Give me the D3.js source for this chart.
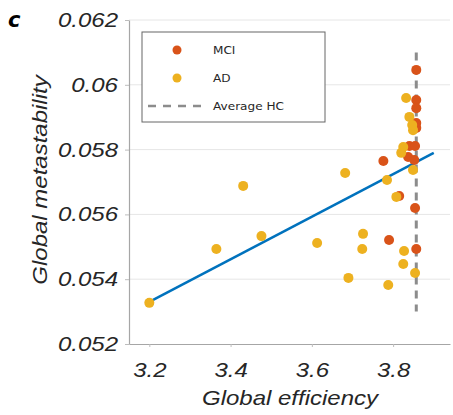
<!DOCTYPE html>
<html>
<head>
<meta charset="utf-8">
<script src="https://cdn.jsdelivr.net/npm/d3@7"></script>
<style>
  body { margin: 0; background: #fff; }
  svg { display: block; }
</style>
</head>
<body>
<script>
// data
var mciEff  = [3.857, 3.857, 3.857, 3.857, 3.857, 3.840, 3.854, 3.776, 3.837, 3.852, 3.815, 3.854, 3.790, 3.857];
var mciMeta = [0.06046, 0.05953, 0.05928, 0.05882, 0.05867, 0.05811, 0.05811, 0.05765, 0.05777, 0.05768, 0.05657, 0.05620, 0.05521, 0.05493];

var adEff  = [3.200, 3.365, 3.431, 3.476, 3.613, 3.682, 3.690, 3.726, 3.724, 3.788, 3.827, 3.825, 3.854, 3.808, 3.785, 3.849, 3.820, 3.825, 3.849, 3.832, 3.840, 3.847];
var adMeta = [0.05327, 0.05493, 0.05688, 0.05533, 0.05512, 0.05728, 0.05404, 0.05540, 0.05493, 0.05382, 0.05487, 0.05447, 0.05419, 0.05654, 0.05706, 0.05737, 0.05790, 0.05808, 0.05860, 0.05959, 0.05901, 0.05876];

var hcEff = 3.857;
var hcMeta = [0.061, 0.053];

var fitEff = [3.2, 3.9];
var fitMeta = [0.0533, 0.0579];

var xTicks = [3.2, 3.4, 3.6, 3.8];
var yTicks = [0.052, 0.054, 0.056, 0.058, 0.06, 0.062];

var legendNames = ["MCI", "AD", "Average HC"];

//styles
var width = 453, height = 415;
var mciColor = "#D95319";
var adColor = "#EDB120";
var fitColor = "#0072BD";
var hcColor = "#8c8c8c";
var tickFont = "'Liberation Sans', Arial, sans-serif";
var stretch = "scale(1.2,1)";

var svg = d3.select("body").append("svg")
  .attr("width", width)
  .attr("height", height);

var x = d3.scaleLinear().domain([3.15, 3.94]).range([129, 450]);
var y = d3.scaleLinear().domain([0.052, 0.062]).range([344, 20]);

// grid
svg.append("g").selectAll("line")
  .data(yTicks.slice(1))
  .enter().append("line")
  .attr("x1", x.range()[0]).attr("x2", x.range()[1])
  .attr("y1", d => y(d)).attr("y2", d => y(d))
  .attr("stroke", "#e6e6e6")
  .attr("stroke-width", 1);

// axes
var yAxis = svg.append("g")
  .attr("transform", "translate(" + x.range()[0] + ",0)")
  .call(d3.axisLeft(y).tickValues(yTicks).tickSize(4).tickSizeOuter(0)
    .tickFormat(d => String(+d.toFixed(3))));

var xAxis = svg.append("g")
  .attr("transform", "translate(0," + y.range()[0] + ")")
  .call(d3.axisBottom(x).tickValues(xTicks).tickSize(3).tickSizeOuter(0));

[yAxis, xAxis].forEach(function(g) {
  g.select(".domain").attr("stroke", "#a6a6a6").attr("stroke-width", 1.2);
  g.selectAll(".tick line").attr("stroke", "#bdbdbd");
  g.selectAll(".tick text")
    .attr("fill", "#262626")
    .style("font-family", tickFont)
    .style("font-style", "italic")
    .style("font-size", "20px")
    .attr("transform", stretch);
});
yAxis.selectAll(".tick text").attr("x", -9.2);
xAxis.selectAll(".tick text").attr("y", 33.5).attr("dy", null);

// axis titles
svg.append("text")
  .attr("transform", "translate(290,405) " + stretch)
  .attr("text-anchor", "middle")
  .style("font-family", tickFont)
  .style("font-style", "italic")
  .style("font-size", "20px")
  .attr("fill", "#262626")
  .text("Global efficiency");

svg.append("text")
  .attr("transform", "translate(47,180) rotate(-90) " + stretch)
  .attr("text-anchor", "middle")
  .style("font-family", tickFont)
  .style("font-style", "italic")
  .style("font-size", "20px")
  .attr("fill", "#262626")
  .text("Global metastability");

// panel letter
svg.append("text")
  .attr("x", 8).attr("y", 27)
  .style("font-family", "'DejaVu Sans', sans-serif")
  .style("font-style", "italic")
  .style("font-weight", "bold")
  .style("font-size", "21px")
  .attr("fill", "#000")
  .text("c");

// average HC line
svg.append("line")
  .attr("x1", x(hcEff)).attr("x2", x(hcEff))
  .attr("y1", y(hcMeta[0])).attr("y2", y(hcMeta[1]))
  .attr("stroke", hcColor)
  .attr("stroke-width", 3)
  .attr("stroke-dasharray", "8,6");

// fit line
var line = d3.line().x(d => x(d[0])).y(d => y(d[1]));
svg.append("path")
  .datum(d3.zip(fitEff, fitMeta))
  .attr("d", line)
  .attr("fill", "none")
  .attr("stroke", fitColor)
  .attr("stroke-width", 2.5);

// points
svg.append("g").selectAll("circle")
  .data(d3.zip(mciEff, mciMeta))
  .enter().append("circle")
  .attr("cx", d => x(d[0])).attr("cy", d => y(d[1]))
  .attr("r", 5)
  .attr("fill", mciColor);

svg.append("g").selectAll("circle")
  .data(d3.zip(adEff, adMeta))
  .enter().append("circle")
  .attr("cx", d => x(d[0])).attr("cy", d => y(d[1]))
  .attr("r", 5)
  .attr("fill", adColor);

// legend
var legend = svg.append("g").attr("transform", "translate(142,32)");
legend.append("rect")
  .attr("width", 183).attr("height", 90)
  .attr("fill", "#fff")
  .attr("stroke", "#666")
  .attr("stroke-width", 1);

legend.append("circle").attr("cx", 35).attr("cy", 18).attr("r", 4.5).attr("fill", mciColor);
legend.append("circle").attr("cx", 35).attr("cy", 46).attr("r", 4.5).attr("fill", adColor);
legend.append("line")
  .attr("x1", 6).attr("x2", 62).attr("y1", 74).attr("y2", 74)
  .attr("stroke", hcColor)
  .attr("stroke-width", 2.5)
  .attr("stroke-dasharray", "8,7");

legend.selectAll("text.lab")
  .data(legendNames)
  .enter().append("text")
  .attr("class", "lab")
  .attr("transform", (d, i) => "translate(71," + (22 + i * 28) + ") scale(1.1,1)")
  .style("font-family", "'DejaVu Sans', sans-serif")
  .style("font-size", "11px")
  .attr("fill", "#262626")
  .text(d => d);
</script>
</body>
</html>
